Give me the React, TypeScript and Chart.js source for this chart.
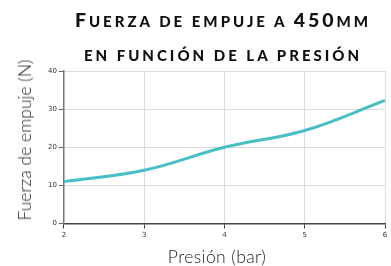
import React, { useEffect, useRef } from "react";
import { Chart, registerables } from "chart.js";

Chart.register(...registerables);

const pressures = [2, 3, 4, 5, 6];
const forces = [11, 14, 20, 24.4, 32.3];
const xTitle = "Presión (bar)";
const yTitle = "Fuerza de empuje (N)";

export default function App() {
  const ref = useRef<HTMLCanvasElement | null>(null);
  useEffect(() => {
    document.body.style.margin = "0";
    const chart = new Chart(ref.current!, {
      type: "line",
      data: {
        datasets: [
          {
            data: pressures.map((p, i) => ({ x: p, y: forces[i] })),
            borderColor: "#48bfc6",
            borderWidth: 3,
            tension: 0.4,
            pointRadius: 0,
            fill: false,
          },
        ],
      },
      options: {
        animation: false,
        responsive: false,
        layout: { padding: { top: 71, right: 6, left: 46, bottom: 25 } },
        plugins: { legend: { display: false }, tooltip: { enabled: false } },
        scales: {
          x: {
            type: "linear",
            min: 2,
            max: 6,
            ticks: { stepSize: 1, font: { size: 7, family: "DejaVu Sans" }, color: "#333", padding: 2 },
            grid: { color: "#dcdcdc", tickColor: "#444", tickLength: 5 },
            border: { color: "#444", width: 1.5 },
          },
          y: {
            min: 0,
            max: 40,
            ticks: { stepSize: 10, font: { size: 7, family: "DejaVu Sans" }, color: "#333", padding: 2 },
            grid: { color: "#dcdcdc", tickColor: "#666", tickLength: 5 },
            border: { color: "#777", width: 1.5 },
          },
        },
      },
    });
    return () => chart.destroy();
  }, []);
  const base: React.CSSProperties = {
    position: "absolute",
    left: 60,
    width: 326,
    fontFamily: "Lato",
    fontWeight: 900,
    textTransform: "uppercase",
    color: "#111",
    textAlign: "center",
    lineHeight: "20px",
    whiteSpace: "nowrap",
  };
  const small: React.CSSProperties = { fontSize: 15 };
  const axisTitle: React.CSSProperties = {
    position: "absolute",
    fontFamily: "Lato",
    fontWeight: 300,
    fontSize: 17.5,
    color: "#222",
    whiteSpace: "nowrap",
    lineHeight: "20px",
  };
  return (
    <div style={{ position: "fixed", left: 0, top: 0, width: 391, height: 266, background: "#fff" }}>
      <canvas ref={ref} width={391} height={266} style={{ position: "absolute", left: 0, top: 0 }} />
      <div style={{ ...base, top: 9.5, fontSize: 19.5, letterSpacing: 3 }}>
        F<span style={small}>uerza de empuje a </span>450<span style={small}>mm</span>
      </div>
      <div style={{ ...base, top: 45, fontSize: 15, letterSpacing: 3 }}>en función de la presión</div>
      <div style={{ ...axisTitle, left: 217, top: 256.5, letterSpacing: 0.4, transform: "translate(-50%, -50%)" }}>{xTitle}</div>
      <div style={{ ...axisTitle, left: 24.5, top: 140, transform: "translate(-50%, -50%) rotate(-90deg)" }}>{yTitle}</div>
    </div>
  );
}
